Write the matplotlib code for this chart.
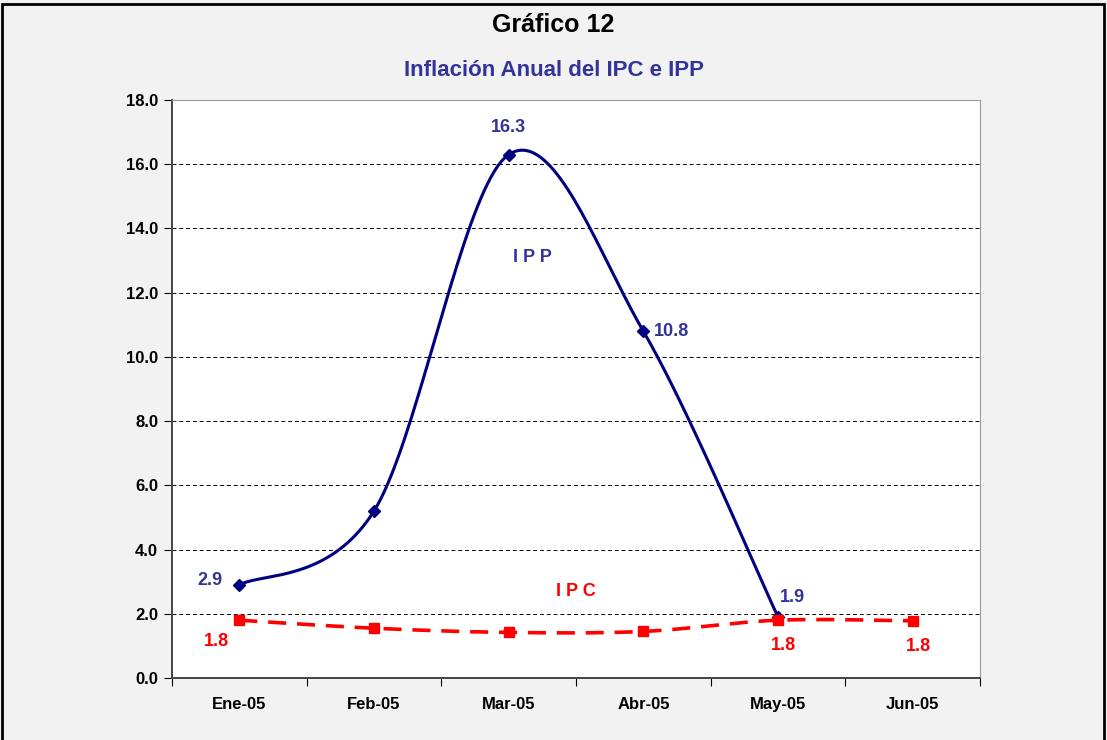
import matplotlib.pyplot as plt
import numpy as np
from matplotlib.patches import Rectangle

plt.rcParams['font.family'] = ['Liberation Sans', 'DejaVu Sans']

months = ['Ene-05', 'Feb-05', 'Mar-05', 'Abr-05', 'May-05', 'Jun-05']
ipp = [2.9, 5.2, 16.3, 10.8, 1.9]
ipc = [1.8, 1.55, 1.42, 1.45, 1.8, 1.78]
ipc_labels = ['1.8', '', '', '', '1.8', '1.8']


def smooth(xs, ys, n=40):
    # excel-like smoothed line (catmull-rom through bezier segments)
    p = np.column_stack([xs, ys]).astype(float)
    out = []
    for i in range(len(p) - 1):
        p0 = p[i - 1] if i > 0 else p[i]
        p3 = p[i + 2] if i + 2 < len(p) else p[i + 1]
        c1 = p[i] + (p[i + 1] - p0) / 6
        c2 = p[i + 1] - (p3 - p[i]) / 6
        t = np.linspace(0, 1, n)[:, None]
        seg = ((1 - t) ** 3 * p[i] + 3 * (1 - t) ** 2 * t * c1
               + 3 * (1 - t) * t ** 2 * c2 + t ** 3 * p[i + 1])
        out.append(seg if i == 0 else seg[1:])
    out = np.vstack(out)
    return out[:, 0], out[:, 1]


blue = '#000080'
lblue = '#333399'
red = '#ff0000'

fig = plt.figure(figsize=(11.07, 7.4), dpi=100, facecolor='#f2f2f2')
ax = fig.add_axes([172 / 1107, 62 / 740, 808 / 1107, 578 / 740])
ax.set_facecolor('white')

x_ipp = np.arange(len(ipp))
x_ipc = np.arange(len(ipc))

sx, sy = smooth(x_ipp, ipp)
ax.plot(sx, sy, color=blue, lw=2.2, zorder=3)
ax.plot(x_ipp, ipp, 'D', color=blue, ms=6, zorder=4)

cx, cy = smooth(x_ipc, ipc)
ax.plot(cx, cy, color=red, lw=2.6, dashes=(5, 3), zorder=3)
ax.plot(x_ipc, ipc, 's', color=red, ms=7, zorder=4)

# data labels
lab = dict(fontsize=13, fontweight='bold')
ax.text(x_ipp[0] - 0.22, ipp[0] + 0.15, '2.9', color=lblue, ha='center', va='center', **lab)
ax.text(x_ipp[2], ipp[2] + 0.85, '16.3', color=lblue, ha='center', va='center', **lab)
ax.text(x_ipp[3] + 0.21, ipp[3], '10.8', color=lblue, ha='center', va='center', **lab)
ax.text(x_ipp[4] + 0.11, ipp[4] + 0.6, '1.9', color=lblue, ha='center', va='center', **lab)
for i, s in enumerate(ipc_labels):
    if s:
        ax.text(x_ipc[i] + 0.04 * (i > 0) - 0.17 * (i == 0), ipc[i] - (0.65 if i == 0 else 0.8), s,
                color=red, ha='center', va='center', **lab)

ax.text(2.18, 13.1, 'I P P', color=lblue, ha='center', va='center', **lab)
ax.text(2.5, 2.7, 'I P C', color=red, ha='center', va='center', **lab)

ax.set_xlim(-0.5, 5.5)
ax.set_ylim(0, 18)
ax.set_yticks(np.arange(0, 19, 2))
ax.set_yticklabels([f'{v:.1f}' for v in np.arange(0, 19, 2)], fontsize=12, fontweight='bold')
ax.set_xticks(np.arange(-0.5, 6, 1))
ax.set_xticklabels([])
ax.set_xticks(np.arange(len(months)), minor=True)
ax.set_xticklabels(months, minor=True, fontsize=12, fontweight='bold')
ax.tick_params(axis='x', which='minor', length=0, pad=14)
ax.tick_params(axis='x', which='major', length=6, direction='out')
ax.tick_params(axis='y', length=6, direction='out', pad=4)

ax.yaxis.grid(True, color='black', ls=(0, (4, 3)), lw=0.7)
ax.set_axisbelow(True)
for s in ['top', 'right']:
    ax.spines[s].set_color('#999999')
    ax.spines[s].set_linewidth(0.8)
for s in ['left', 'bottom']:
    ax.spines[s].set_color('#444444')
    ax.spines[s].set_linewidth(1.4)

fig.text(0.5, 1 - 25 / 740, 'Gráfico 12', ha='center', va='center',
         fontsize=18, fontweight='bold', color='black')
fig.text(0.5, 1 - 70 / 740, 'Inflación Anual del IPC e IPP', ha='center', va='center',
         fontsize=16, fontweight='bold', color=lblue)

fig.patches.append(Rectangle((0.002, -0.01), 0.995, 1.005, transform=fig.transFigure,
                             fill=False, ec='black', lw=2))

fig.savefig('out.png', dpi=100, facecolor=fig.get_facecolor())
